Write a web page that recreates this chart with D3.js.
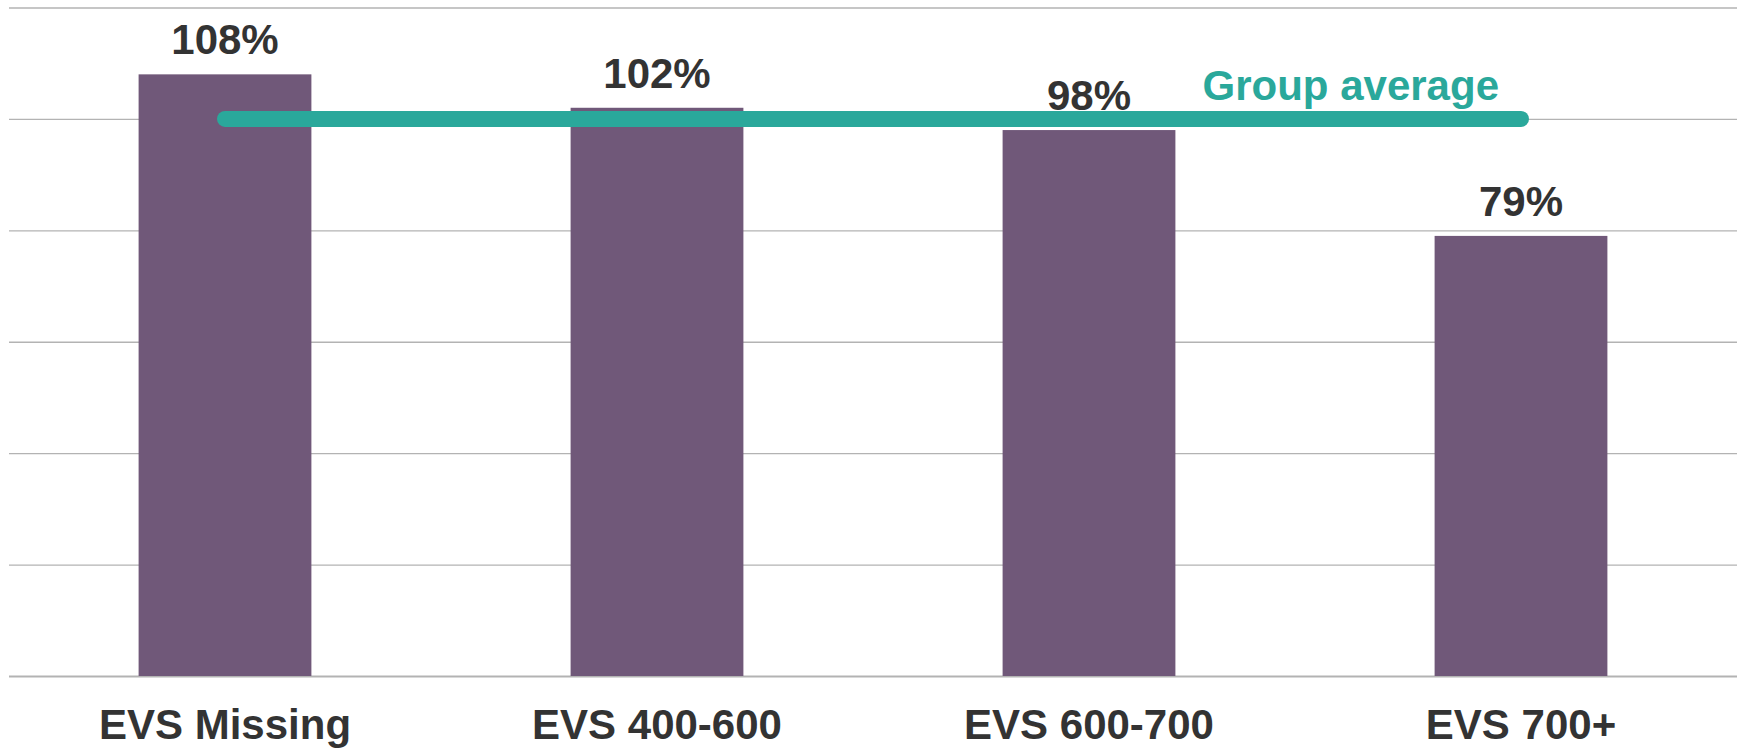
<!DOCTYPE html>
<html>
<head>
<meta charset="utf-8">
<script src="https://cdn.jsdelivr.net/npm/d3@7"></script>
<style>
  html, body { margin: 0; padding: 0; background: #fff; }
  svg { display: block; font-family: "Liberation Sans", Arial, Helvetica, sans-serif; }
</style>
</head>
<body>
<svg id="chart" width="1741" height="749"></svg>
<script>
// Relative performance by EVS band (percent of group average)
const categories = ["EVS Missing", "EVS 400-600", "EVS 600-700", "EVS 700+"];
const values = [108, 102, 98, 79];
const groupAverage = 100;
const averageLabel = "Group average";
const yTicks = [0, 20, 40, 60, 80, 100, 120];

const svg = d3.select("#chart");
const margin = { left: 9, right: 4, top: 7.5, bottom: 73 };
const W = 1741, H = 749;

const x = d3.scaleBand()
  .domain(categories)
  .range([margin.left, W - margin.right])
  .paddingInner(0.6)
  .paddingOuter(0.3);

const y = d3.scaleLinear()
  .domain([0, 120])
  .range([H - margin.bottom, margin.top]);

// Horizontal gridlines
const grid = d3.axisLeft(y)
  .tickValues(yTicks)
  .tickSize(-(W - margin.left - margin.right))
  .tickFormat("");
svg.append("g")
  .attr("transform", `translate(${margin.left},0)`)
  .call(grid)
  .call(g => g.select(".domain").remove())
  .call(g => g.selectAll(".tick line")
    .attr("stroke", "#b3b3b3")
    .attr("stroke-width", d => d === 0 ? 2 : 1.3));

// Bars
svg.append("g")
  .selectAll("rect")
  .data(values)
  .join("rect")
  .attr("x", (d, i) => x(categories[i]))
  .attr("y", d => y(d))
  .attr("width", x.bandwidth())
  .attr("height", d => y(0) - y(d))
  .attr("fill", "#705879");

// Value labels
svg.append("g")
  .selectAll("text")
  .data(values)
  .join("text")
  .attr("x", (d, i) => x(categories[i]) + x.bandwidth() / 2)
  .attr("y", d => y(d) - 20)
  .attr("text-anchor", "middle")
  .attr("font-size", 42)
  .attr("font-weight", "bold")
  .attr("fill", "#333333")
  .text(d => d + "%");

// Group average line
const first = categories[0], last = categories[categories.length - 1];
svg.append("line")
  .attr("x1", x(first) + x.bandwidth() / 2)
  .attr("x2", x(last) + x.bandwidth() / 2)
  .attr("y1", y(groupAverage))
  .attr("y2", y(groupAverage))
  .attr("stroke", "#2aa89b")
  .attr("stroke-width", 16)
  .attr("stroke-linecap", "round");

svg.append("text")
  .attr("x", x(last) + x.bandwidth() / 2 - 22)
  .attr("y", y(groupAverage) - 19)
  .attr("text-anchor", "end")
  .attr("font-size", 42)
  .attr("font-weight", "bold")
  .attr("fill", "#2aa89b")
  .text(averageLabel);

// Category axis labels
const xAxis = d3.axisBottom(x).tickSize(0).tickPadding(0);
svg.append("g")
  .attr("transform", `translate(0,${y(0)})`)
  .call(xAxis)
  .call(g => g.select(".domain").remove())
  .call(g => g.selectAll(".tick text")
    .attr("y", 63)
    .attr("dy", 0)
    .attr("font-size", 42)
    .attr("font-weight", "bold")
    .attr("font-family", "\"Liberation Sans\", Arial, Helvetica, sans-serif")
    .attr("fill", "#333333"));
</script>
</body>
</html>
